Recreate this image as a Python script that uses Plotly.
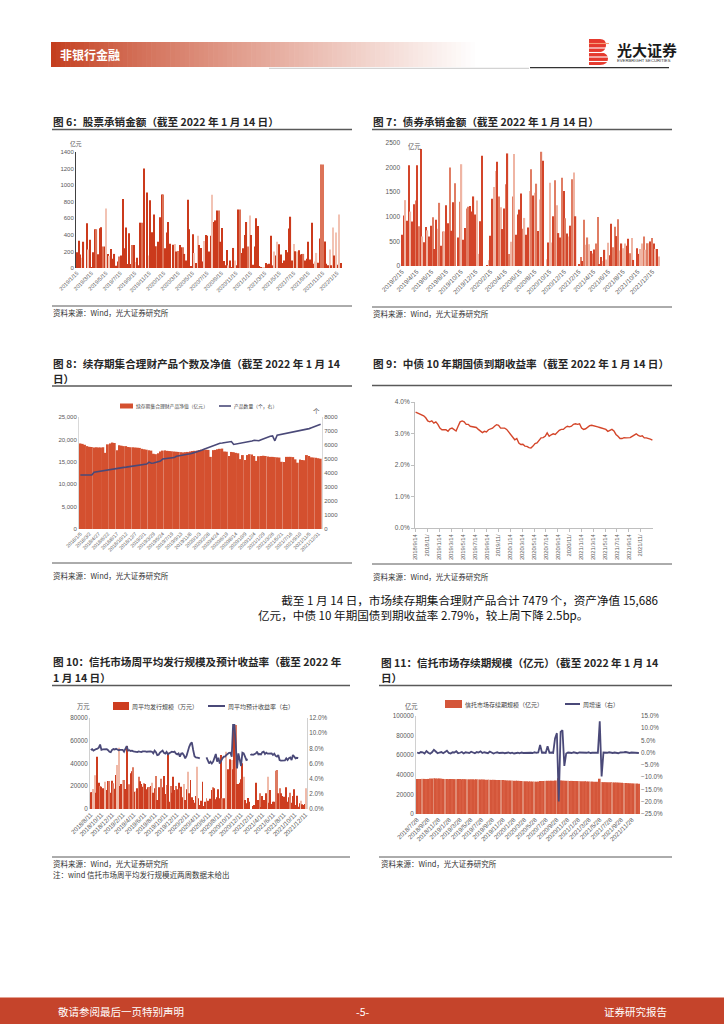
import numpy as np
import plotly.graph_objects as go

W, H = 724, 1024
def fx(x): return x / W
def fy(y): return 1 - y / H

FONT = "Noto Sans CJK SC"
NUMF = "Liberation Sans, Noto Sans CJK SC"
NAVY = "#4a4978"

# ---------------- data ----------------
# Fig 6: 股票承销金额 (亿元), weekly
stock_uw = [190,330,163,123,317,0,540,222,341,12,
            190,468,468,167,480,492,258,258,718,170,
            147,230,111,170,28,79,139,151,833,238,
            488,48,420,48,278,278,71,123,32,547,
            547,1202,0,912,151,817,432,646,262,262,
            317,611,888,888,238,428,555,293,0,282,
            290,198,206,278,250,250,170,91,825,468,
            16,408,182,60,389,278,242,79,325,397,
            389,198,389,884,555,575,694,694,317,484,
            83,32,218,32,91,12,242,91,32,706,
            706,182,238,397,555,258,635,397,40,258,
            599,508,24,12,8,8,60,44,52,389,
            32,198,151,317,286,163,60,91,218,190,
            476,619,91,290,202,198,214,163,170,170,
            91,111,317,103,547,52,79,182,63,357,
            1250,1250,321,52,32,222,32,488,151,428,
            40,646,60]
stock_ticks = ["2019/1/15","2019/3/15","2019/5/15","2019/7/15","2019/9/15","2019/11/15",
               "2020/1/15","2020/3/15","2020/5/15","2020/7/15","2020/9/15","2020/11/15",
               "2021/1/15","2021/3/15","2021/5/15","2021/7/15","2021/9/15","2021/11/15","2022/1/15"]

# Fig 7: 债券承销金额 (亿元), weekly
bond_uw = [635,1025,1339,922,2049,1106,902,1257,1332,2049,
           806,2377,601,485,792,724,601,820,990,348,
           942,758,1284,410,703,703,1236,867,2001,717,
           1298,1680,0,580,1304,2069,533,772,1168,1202,
           1222,1106,1414,1045,1332,246,908,2240,0,0,
           20,116,615,1366,1605,1933,2117,1414,1195,751,
           1168,1660,2288,246,492,1414,2274,635,1045,1147,
           1475,758,977,635,785,1523,1967,1434,1489,1673,
           710,1352,2322,2138,0,137,478,1694,478,1011,
           1742,1236,669,580,1796,1523,970,662,601,820,
           1762,1899,1011,0,27,184,102,942,430,580,
           444,307,253,335,458,997,34,184,102,328,
           130,471,219,860,382,799,608,949,314,458,
           362,458,410,553,260,567,123,0,362,246,
           348,458,601,328,464,464,499,567,458,348,
           348,191]
bond_ticks = ["2019/2/15","2019/4/15","2019/6/15","2019/8/15","2019/10/15","2019/12/15",
              "2020/2/15","2020/4/15","2020/6/15","2020/8/15","2020/10/15","2020/12/15",
              "2021/2/15","2021/4/15","2021/6/15","2021/8/15","2021/10/15","2021/12/15"]

# Fig 8: 续存期集合理财产品净值 (亿元) and 产品数量 (个), bi-weekly
nav = [19100,19000,18800,18500,18350,18300,18200,18250,18200,18200,
       18250,17000,18900,19100,19300,19200,17600,18700,18600,18500,
       18500,18300,18250,18250,18200,18150,18100,17900,17800,17700,
       17600,17500,16800,16700,16900,17300,17500,17550,17450,17400,
       17350,17300,17250,17200,17150,17100,17150,17200,17300,17400,
       17450,17500,17600,17700,17750,17700,17650,16100,17600,17650,
       17800,17900,17950,17300,17250,16300,17200,17150,17000,16900,
       15600,16500,15400,16500,16700,16650,16300,15200,16250,16300,
       16350,16300,16200,16100,16100,16050,16000,15950,15000,14950,
       16100,16100,16100,16050,15550,14800,15500,15400,15350,16500,
       16300,16000,15950,15900,15800,15686]
products = [3860,3870,3860,3850,3870,3860,4050,4080,4120,4150,
            4180,4210,4230,4260,4280,4300,4330,4355,4380,4400,
            4420,4450,4480,4500,4520,4550,4570,4600,4620,4640,
            4780,4700,4720,4750,4800,4850,5000,5010,5020,5030,
            5050,5100,5200,5220,5250,5270,5300,5330,5370,5420,
            5460,5520,5580,5630,5700,5760,5820,5880,5950,6030,
            6100,6120,6140,6160,6180,6200,6250,6040,6070,6100,
            6120,6140,6160,6190,6220,6280,6340,6320,6300,6380,
            6440,6490,6600,6620,6650,6300,6700,6730,6760,6790,
            6820,6860,6900,6940,6970,7000,7030,7050,7100,7130,
            7170,7230,7290,7350,7420,7479]
nav_ticks = ["2018/1/5","2018/3/2","2018/4/27","2018/6/22","2018/8/17","2018/10/12","2018/12/7",
             "2019/2/1","2019/3/29","2019/5/24","2019/7/19","2019/9/13","2019/11/8","2020/1/3",
             "2020/2/28","2020/4/24","2020/6/19","2020/8/14","2020/10/9","2020/12/4","2021/1/29",
             "2021/3/26","2021/5/21","2021/7/16","2021/9/10","2021/11/5","2021/12/31"]

# Fig 9: 中债10年期国债到期收益率 (%)
cgb10y = [3.68,3.65,3.60,3.58,3.56,3.50,3.40,3.37,3.40,3.33,
          3.37,3.29,3.17,3.12,3.13,3.12,3.07,3.15,3.17,3.13,
          3.08,3.23,3.37,3.40,3.37,3.29,3.29,3.23,3.21,3.19,
          3.19,3.13,3.07,3.03,3.07,3.05,3.12,3.15,3.17,3.23,
          3.28,3.26,3.17,3.17,3.17,3.13,3.05,2.99,2.89,2.80,
          2.84,2.70,2.65,2.66,2.60,2.59,2.55,2.54,2.60,2.68,
          2.70,2.80,2.86,2.87,2.91,3.02,2.91,2.96,2.99,2.97,
          3.04,3.10,3.13,3.13,3.19,3.23,3.21,3.23,3.29,3.31,
          3.29,3.31,3.17,3.13,3.15,3.21,3.25,3.26,3.25,3.23,
          3.21,3.19,3.17,3.15,3.13,3.07,3.10,3.13,3.08,2.97,
          2.91,2.84,2.84,2.87,2.86,2.86,2.87,2.91,2.94,2.99,
          2.94,2.91,2.93,2.86,2.86,2.85,2.82,2.79]
cgb_ticks = ["2018/9/14","2018/11/","2019/1/14","2019/3/14","2019/5/14","2019/7/14","2019/9/14",
             "2019/11/","2020/1/14","2020/3/14","2020/5/14","2020/7/14","2020/9/14","2020/11/",
             "2021/1/14","2021/3/14","2021/5/14","2021/7/14","2021/9/14","2021/11/"]

# Fig 10: 信托周平均发行规模 (万元) and 周平均预计收益率 (%)
trust_issue = [14650,14650,17580,29600,14360,46000,23150,20220,19630,18170,
               17290,24030,16700,24610,24610,14360,24900,22560,17870,29900,
               38680,53900,20220,21980,25490,25490,17580,55380,21100,21680,
               31350,33110,36630,15240,15240,18170,28420,24320,21980,19630,
               22560,21980,17290,19040,19340,20220,23150,14360,18170,29010,
               7910,19040,15240,26660,19040,29010,13190,21100,49520,6450,
               20220,14360,28420,16700,20220,17290,23150,18170,19630,10260,
               21980,7910,17290,32820,13770,25490,10260,7910,5570,11430,
               37210,9380,3520,7330,24030,2640,6450,9380,7330,1470,
               9080,16700,19040,18170,8500,10260,17290,9380,47470,9380,
               9380,7910,50400,34870,26960,43660,43070,34870,73840,73840,
               21980,21980,23150,26080,40140,28420,7910,4980,9670,6450,
               0,0,2640,3520,23150,2640,7910,13770,1470,11430,
               7910,4100,13770,28420,5570,16700,4400,6450,6450,33700,
               34280,13770,18170,13770,11430,10840,7330,19040,6450,10260,
               14360,5570,11430,17290,3520,11720,2050,4980,7330,4100,
               3520,4400,18170]
trust_yield = [7.78,7.9,7.7,7.85,7.9,7.95,8.1,8.5,7.8,7.85,
               7.9,7.85,7.9,7.75,7.55,7.5,7.8,7.9,7.85,7.95,
               7.8,7.75,7.8,7.75,7.8,7.55,7.85,8.3,7.7,7.75,
               7.65,7.7,7.6,7.55,7.6,7.5,7.6,7.55,7.5,7.6,
               7.65,7.6,7.55,7.6,7.65,7.6,7.55,7.34,7.7,7.5,
               7.1,7.15,7.43,7.6,7.7,7.4,7.3,7.52,7.2,7.35,
               7.45,7.55,7.5,7.56,7.3,7.2,7.34,6.9,7.3,7.34,
               7.1,6.68,6.99,7.7,8.2,8.6,8.79,7.78,6.95,6.8,
               6.8,6.75,6.68,None,None,None,None,6.8,6.46,6.0,
               6.24,6.0,6.24,6.68,7.25,6.24,6.77,6.0,6.46,6.68,
               6.9,6.9,7.12,7.3,7.4,7.43,6.9,11.1,11.1,8.66,
               5.36,7.34,6.46,5.67,7.43,7.34,6.9,6.46,6.55,None,
               7.12,7.2,7.15,7.25,7.3,7.56,7.2,7.25,7.2,7.5,
               7.56,7.25,7.43,7.3,7.34,7.3,7.34,7.12,7.3,7.0,
               6.9,7.12,6.46,6.37,6.4,6.37,6.4,6.68,6.46,6.7,
               6.8,6.46,7.12,6.9,6.68,6.75,6.7]
trust_ticks = ["2018/8/11","2018/10/11","2018/12/11","2019/2/11","2019/4/11","2019/6/11",
               "2019/8/11","2019/10/11","2019/12/11","2020/2/11","2020/4/11","2020/6/11",
               "2020/8/11","2020/10/11","2020/12/11","2021/2/11","2021/4/11","2021/6/11",
               "2021/8/11","2021/10/11","2021/12/11"]

# Fig 11: 信托市场存续期规模 (亿元) and 周增速 (%)
trust_aum = [35800,35700,35800,35900,35800,35700,35800,
             36200,36300,36400,36300,36200,36300,36100,
             35800,35700,35700,35600,35700,35700,35600,35600,35700,35600,35500,35600,
             35500,35400,35400,35500,35400,35300,35400,35300,35200,35300,35200,
             35000,34900,34900,34800,34900,34800,34700,34800,34700,34600,34500,
             34300,34200,34200,34100,34000,34000,33900,33800,33700,
             33500,33400,33300,33200,33200,33100,33100,33000,33100,
             33600,33700,33800,33800,33900,33900,34000,34000,34100,34200,
             36500,
             34300,34100,34000,33900,33900,33800,33800,33700,33700,33600,33600,33500,33500,
             33300,33200,33200,33100,33100,33000,33000,32900,
             36000,
             32600,32500,32500,32400,32400,32300,32300,32200,32200,32100,32000,
             31800,31700,31600,31500,31400,31300,31200,31100,31000,30800]
trust_growth = [0.1,-0.2,0.3,0.2,-0.3,0.7,0.0,-0.4,0.2,1.2,
                0.5,-0.2,0.1,0.3,-0.2,0.4,0.8,-0.1,-0.3,0.2,
                0.1,0.6,-0.2,0.0,0.3,-0.3,0.2,0.1,-0.1,0.4,
                0.0,-0.2,0.3,0.1,0.6,-0.1,0.2,0.0,-0.2,0.5,
                0.1,-0.3,0.0,0.2,-0.1,0.1,0.0,-0.2,-0.1,0.1,
                -0.2,0.0,-0.3,-0.1,0.0,-0.2,0.1,-0.1,0.0,-0.2,
                0.1,0.0,-0.1,0.2,0.0,0.1,
                3.2,0.0,0.1,-0.1,2.7,0.0,0.1,-0.1,5.8,8.0,-19.9,8.5,9.2,-5.4,-0.3,
                0.1,0.0,-0.1,0.2,0.0,-0.2,0.1,0.0,-0.1,0.1,0.0,0.2,-0.1,0.0,0.1,-0.1,0.0,
                12.8,-9.7,
                0.1,-0.1,0.0,0.2,0.0,-0.1,0.1,0.0,-0.2,0.1,0.0,0.2,0.3,0.0,-0.1,0.1,0.0,-0.2,0.0,-0.1]
aum_ticks = ["2018/7/28","2018/9/28","2018/11/28","2019/1/28","2019/3/28","2019/5/28",
             "2019/7/28","2019/9/28","2019/11/28","2020/1/28","2020/3/28","2020/5/28",
             "2020/7/28","2020/9/28","2020/11/28","2021/1/28","2021/3/28","2021/5/28",
             "2021/7/28","2021/9/28","2021/11/28"]

# ---------------- styles (bar shading, not data) ----------------
shade6 = ("dddldddldd" "ddmdddmdld" "ldddddmddd" "ddddmdlddd" "mdddlddddm"
          "dddmdddddd" "ldmddmdddd" "ddldldddld" "dddldddmdd" "dddldddldd"
          "mddddmlddd" "ddddlldddd" "dldldddddd" "dddldldddm" "ddddddlldd"
          "mmdddldldl" "dld")
shade7 = ("ddlddlddmd" "mdlddlddmd" "dlmdmlddmd" "dmddmlddmm" "ddddlldddd"
          "dlddlldmld" "dmdmlmlddd" "dmlddlmdlm" "dlmddldlld" "mlddmdmdld"
          "mldddmdmlm" "ldmdmmddld" "llddmmdmld" "llddmldddd" "llmlmldmdl" "dl")
shade10 = ("ddlldddmdd" "dlddmddmdd" "llddlmdddm" "ddmdldmddd" "mdddmdlddm"
           "dddmdddmdd" "mdddmddmdd" "lddldddddd" "lddddddmdd" "ddmddddddm"
           "ddldddlddm" "dddddldddd" "dddddddmdd" "dddldddddm" "mdmddddddd"
           "mdddddddld" "ddl")

def colors(codes, n, pal):
    codes = (codes + "d" * n)[:n]
    return [pal[c] for c in codes]

pal6 = {"d": "#cb3a1c", "m": "#dc7358", "l": "#f2c3b4"}
pal7 = {"d": "#d3452a", "m": "#e07d64", "l": "#efb5a4"}
pal10 = {"d": "#cd3d20", "m": "#dd7a61", "l": "#f0baa9"}
pal11 = ["#d4563a", "#d95f43", "#d4563a", "#e08b74", "#d4563a", "#d85d41"]

fig = go.Figure()

# Fig 6
n6 = len(stock_uw)
fig.add_trace(go.Bar(x=list(range(n6)), y=stock_uw, width=0.72,
                     marker=dict(color=colors(shade6, n6, pal6), line=dict(width=0)),
                     xaxis="x", yaxis="y", name="股票承销金额"))
# Fig 7
n7 = len(bond_uw)
fig.add_trace(go.Bar(x=list(range(n7)), y=bond_uw, width=0.72,
                     marker=dict(color=colors(shade7, n7, pal7), line=dict(width=0)),
                     xaxis="x2", yaxis="y2", name="债券承销金额"))
# Fig 8
n8 = len(nav)
fig.add_trace(go.Bar(x=list(range(n8)), y=nav, width=0.86,
                     marker=dict(color="#d4502f", line=dict(width=0)),
                     xaxis="x3", yaxis="y3", name="续存期集合理财产品净值（亿元）"))
fig.add_trace(go.Scatter(x=list(range(n8)), y=products, mode="lines",
                         line=dict(color=NAVY, width=1.6),
                         xaxis="x3", yaxis="y4", name="产品数量（个，右）"))
# Fig 9
n9 = len(cgb10y)
fig.add_trace(go.Scatter(x=list(range(n9)), y=cgb10y, mode="lines",
                         line=dict(color="#d4462a", width=1.4),
                         xaxis="x4", yaxis="y5", name="中债10年期国债到期收益率"))
# Fig 10
n10 = len(trust_issue)
fig.add_trace(go.Bar(x=list(range(n10)), y=trust_issue, width=0.72,
                     marker=dict(color=colors(shade10, n10, pal10), line=dict(width=0)),
                     xaxis="x5", yaxis="y6", name="周平均发行规模（万元）"))
yl = (trust_yield + [None] * n10)[:n10]
fig.add_trace(go.Scatter(x=list(range(n10)), y=yl, mode="lines", connectgaps=False,
                         line=dict(color=NAVY, width=1.8),
                         xaxis="x5", yaxis="y7", name="周平均预计收益率（右）"))
# Fig 11
n11 = len(trust_aum)
fig.add_trace(go.Bar(x=list(range(n11)), y=trust_aum, width=0.9,
                     marker=dict(color=[pal11[i % len(pal11)] for i in range(n11)], line=dict(width=0)),
                     xaxis="x6", yaxis="y8", name="信托市场存续期规模（亿元）"))
fig.add_trace(go.Scatter(x=list(range(len(trust_growth))), y=trust_growth, mode="lines",
                         line=dict(color=NAVY, width=1.8),
                         xaxis="x6", yaxis="y9", name="周增速（右）"))

TICKC = "#595959"
def tf(size): return dict(family=NUMF, size=size, color=TICKC)

def xax(x0, x1, anchor, n, tickvals, ticktext, angle=-45, size=6, line=False, ticks=""):
    return dict(domain=[fx(x0), fx(x1)], anchor=anchor, range=[-0.6, n - 0.4],
                tickmode="array", tickvals=list(tickvals), ticktext=ticktext,
                tickangle=angle, tickfont=tf(size), showgrid=False, zeroline=False,
                showline=line, linecolor="#bfbfbf", linewidth=1, ticks=ticks,
                ticklen=3, tickcolor="#bfbfbf", fixedrange=True, automargin=False)

def yax(y0, y1, anchor, rng, dtick, size=6.3, fmt=None, suffix="", side="left",
        line=False, linecolor="#bfbfbf", overlaying=None, ticks=""):
    d = dict(domain=[fy(y0), fy(y1)], anchor=anchor, range=rng, dtick=dtick, tick0=rng[0],
             tickfont=tf(size), showgrid=False, zeroline=False, side=side,
             showline=line, linecolor=linecolor, linewidth=1, ticks=ticks, ticklen=3,
             tickcolor="#bfbfbf", ticksuffix=suffix, fixedrange=True, automargin=False)
    if fmt: d["tickformat"] = fmt
    if overlaying:
        d["overlaying"] = overlaying
        d.pop("domain")
    return d

layout = dict(
    width=W, height=H, autosize=False,
    margin=dict(l=0, r=0, t=0, b=0, pad=0, autoexpand=False),
    paper_bgcolor="white", plot_bgcolor="white", showlegend=False,
    font=dict(family=FONT),
    xaxis=xax(76, 342, "y", n6, np.linspace(0, (n6 - 1) * 0.985, len(stock_ticks)), stock_ticks, size=5.5),
    yaxis=yax(268, 152, "x", [0, 1400], 200, size=6, line=True, linecolor="#404040"),
    xaxis2=xax(401, 660, "y2", n7, np.linspace(0, (n7 - 1) * 0.975, len(bond_ticks)), bond_ticks, size=6.3),
    yaxis2=yax(266, 143, "x2", [0, 2500], 500, size=6.5),
    xaxis3=xax(79, 322, "y3", n8, range(0, n8, 4), nav_ticks, size=5),
    yaxis3=yax(529, 417, "x3", [0, 25000], 5000, size=6, fmt=",d", line=True, linecolor="#d9d9d9"),
    yaxis4=yax(529, 417, "x3", [0, 8000], 1000, size=6, fmt="d", side="right", line=True,
               linecolor="#d9d9d9", overlaying="y3"),
    xaxis4=dict(xax(415, 653, "y5", n9, np.linspace(0, (n9 - 1) * 0.95, len(cgb_ticks)), cgb_ticks,
                    angle=-90, size=5.8, line=True, ticks="outside"), range=[-0.3, n9 - 0.7]),
    yaxis5=yax(528, 402, "x4", [0, 4], 1, size=6.5, fmt=".1f", suffix="%", line=True, ticks="outside"),
    xaxis5=xax(90, 307, "y6", n10, np.linspace(0, n10 - 1.5, len(trust_ticks)), trust_ticks, size=6.2),
    yaxis6=yax(809, 718, "x5", [0, 80000], 20000, size=6.3, fmt="d", line=True, linecolor="#d0d0d0"),
    yaxis7=yax(809, 718, "x5", [0, 12], 2, size=6.3, fmt=".1f", suffix="%", side="right",
               line=True, linecolor="#d0d0d0", overlaying="y6"),
    xaxis6=xax(416, 640, "y8", n11, np.linspace(0, (n11 - 1) * 0.969, len(aum_ticks)), aum_ticks, size=6.2),
    yaxis8=yax(814, 716, "x6", [0, 100000], 20000, size=6.3, fmt="d", line=True, linecolor="#d0d0d0"),
    yaxis9=yax(814, 716, "x6", [-25, 15], 5, size=6.3, fmt=".1f", suffix="%", side="right",
               overlaying="y8"),
)
fig.update_layout(**layout)

# ---------------- decorations ----------------
shapes = []
annotations = []

def rect(x0, y0, x1, y1, color):
    shapes.append(dict(type="rect", xref="paper", yref="paper", x0=fx(x0), x1=fx(x1),
                       y0=fy(y1), y1=fy(y0), fillcolor=color, line=dict(width=0), layer="above"))

def hline(x0, x1, y, color, w=1.0):
    shapes.append(dict(type="line", xref="paper", yref="paper", x0=fx(x0), x1=fx(x1),
                       y0=fy(y), y1=fy(y), line=dict(color=color, width=w)))

def txt(x, y, s, size, color="#262626", bold=False, xanchor="left", family=FONT, align="left"):
    annotations.append(dict(x=fx(x), y=fy(y), xref="paper", yref="paper",
                            text=("<b>%s</b>" % s) if bold else s, showarrow=False,
                            xanchor=xanchor, yanchor="middle", borderpad=0, align=align,
                            font=dict(family=family, size=size, color=color)))

# header gradient bar
n = 90
c0 = (196, 62, 30)
for k in range(n):
    t = (k / (n - 1)) ** 0.85
    col = "rgb(%d,%d,%d)" % tuple(int(round(c + (255 - c) * t)) for c in c0)
    xa = 51 + (480 - 51) * k / n
    xb = 51 + (480 - 51) * (k + 1) / n + 0.6
    rect(xa, 42, xb, 67, col)
txt(59, 54.5, "非银行金融", 12, color="white", bold=True)
hline(269, 529, 68.3, "#c8c8c8", 1)
hline(530, 669, 67.6, "#333333", 1.2)

# logo
def P(x, y): return "%.5f,%.5f" % (fx(x), fy(y))
logo = ("M %s L %s Q %s %s Q %s %s Q %s %s Q %s %s L %s Z" %
        (P(589, 39), P(600, 39), P(606, 39), P(606, 45), P(606, 50.5), P(601, 52),
         P(608, 53.5), P(608, 58.5), P(608, 65), P(600, 65), P(589, 65)))
shapes.append(dict(type="path", xref="paper", yref="paper", path=logo,
                   fillcolor="#e5392d", line=dict(width=0)))
for yy, cc in [(43.5, "#f6a07a"), (48, "white"), (52.5, "white"), (57, "white"), (61.5, "white")]:
    hline(589, 609, yy, cc, 1.1)
txt(616, 49.5, "光大证券", 15, color="#1a1a1a", bold=True)
txt(616, 60.5, "EVERBRIGHT SECURITIES", 4.2, color="#333333", family=NUMF)

# footer
rect(0, 997, 724, 1024, "#c5442b")
hline(0, 724, 997.5, "#e4a091", 1)
txt(57, 1011, "敬请参阅最后一页特别声明", 10.5, color="white")
txt(362, 1011, "-5-", 10.5, color="white", xanchor="center")
txt(603, 1011, "证券研究报告", 10.5, color="white")

TS = 10.6
TC = "#262626"
SRC = "资料来源：Wind，光大证券研究所"
# Fig 6 frame
txt(52, 121.5, "图 6：股票承销金额（截至 2022 年 1 月 14 日）", TS, TC, bold=True)
hline(52, 352, 129.5, "#595959", 1.3)
txt(76, 143.5, "亿元", 5.8, TICKC, xanchor="center")
hline(52, 352, 306, "#595959", 1)
txt(52, 312.5, SRC, 7.5, "#333333")
# Fig 7 frame
txt(372, 121.5, "图 7：债券承销金额（截至 2022 年 1 月 14 日）", TS, TC, bold=True)
hline(372, 672, 129.5, "#595959", 1.3)
txt(407, 146.5, "亿元", 6.3, TICKC)
hline(372, 672, 307, "#595959", 1)
txt(372, 313, SRC, 7.5, "#333333")
# Fig 8 frame
txt(52, 363, "图 8：续存期集合理财产品个数及净值（截至 2022 年 1 月 14", TS, TC, bold=True)
txt(52, 378, "日）", TS, TC, bold=True)
hline(52, 352, 386, "#595959", 1.3)
rect(120, 403.5, 133, 408.5, "#d4502f")
txt(135, 406, "续存期集合理财产品净值（亿元）", 4.8, "#404040")
hline(219, 231, 406, NAVY, 1.6)
txt(233, 406, "产品数量（个，右）", 4.8, "#404040")
txt(316, 411, "个", 6.5, TICKC, xanchor="center")
hline(52, 352, 563, "#595959", 1)
txt(52, 575.5, SRC, 7.5, "#333333")
# Fig 9 frame
txt(372, 363, "图 9：中债 10 年期国债到期收益率（截至 2022 年 1 月 14 日）", TS, TC, bold=True)
hline(372, 672, 385.5, "#595959", 1.3)
hline(372, 672, 564, "#595959", 1)
txt(372, 576.5, SRC, 7.5, "#333333")

# paragraph (one text block, first line indented)
txt(257, 607, "\u3000\u3000截至 1 月 14 日，市场续存期集合理财产品合计 7479 个，资产净值 15,686<br>"
              "亿元，中债 10 年期国债到期收益率 2.79%，较上周下降 2.5bp。", 11.6, "#111111")

# Fig 10 frame
txt(52, 661, "图 10：信托市场周平均发行规模及预计收益率（截至 2022 年", TS, TC, bold=True)
txt(52, 677, "1 月 14 日）", TS, TC, bold=True)
hline(52, 350, 685.5, "#595959", 1.3)
txt(83, 706, "万元", 6.3, TICKC, xanchor="center")
rect(113, 702, 129, 710, "#cd3d20")
txt(130.5, 706, "周平均发行规模（万元）", 6, "#404040")
hline(208, 225, 706, NAVY, 2)
txt(226.5, 706, "周平均预计收益率（右）", 6, "#404040")
hline(52, 350, 857, "#595959", 1)
txt(52, 863.5, SRC, 7.5, "#333333")
txt(52, 874, "注：wind 信托市场周平均发行规模近两周数据未给出", 7.5, "#333333")

# Fig 11 frame
txt(380, 662, "图 11：信托市场存续期规模（亿元）（截至 2022 年 1 月 14", TS, TC, bold=True)
txt(380, 677, "日）", TS, TC, bold=True)
hline(379, 672, 685.5, "#595959", 1.3)
txt(411, 706, "亿元", 6.3, TICKC, xanchor="center")
rect(445, 700, 462, 708, "#d4563a")
txt(464, 704, "信托市场存续期规模（亿元）", 6, "#404040")
hline(565, 580, 704, NAVY, 2)
txt(582, 704, "周增速（右）", 6, "#404040")
hline(379, 672, 857, "#595959", 1)
txt(380, 863.5, SRC, 7.5, "#333333")

fig.update_layout(shapes=shapes, annotations=annotations)
fig.write_html("out.html", config={"displayModeBar": False},
               post_script="document.body.style.margin='0px';document.body.style.overflow='hidden';")
